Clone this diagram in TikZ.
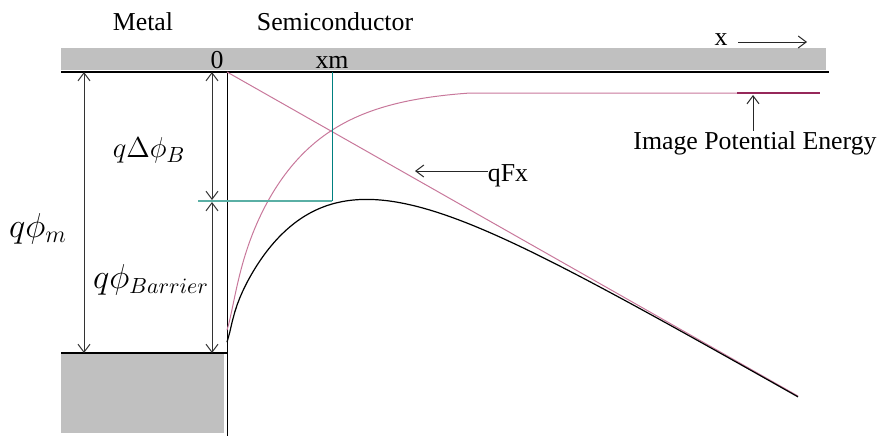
\documentclass[tikz,border=0pt]{standalone}
\usepackage{fontspec}
\setmainfont{Liberation Serif}
\usepackage{tikz}
\usetikzlibrary{arrows.meta, positioning}

\definecolor{silverfill}{RGB}{192,192,192}
\definecolor{mauve}{RGB}{200,120,155}
\definecolor{darkmauve}{RGB}{150,40,90}
\definecolor{tealline}{RGB}{0,128,128}
\definecolor{lightteal}{RGB}{90,175,165}

\begin{document}
\begin{tikzpicture}[
    x=0.5pt, y=-0.5pt,
    txt/.style={inner sep=0pt, anchor=base, font=\fontsize{12.9}{15}\selectfont},
    mathlabel/.style={inner sep=0pt, anchor=base},
    dimarrow/.style={{Straight Barb[length=4pt,width=6pt]}-{Straight Barb[length=4pt,width=6pt]}, black!80, line width=0.5pt},
    pointer/.style={-{Straight Barb[length=4pt,width=6pt]}, black!85, line width=0.5pt},
    field/.style={mauve, line width=0.5pt}
]
    \useasboundingbox (0,0) rectangle (882,436);

    % Gray regions
    \fill[silverfill] (61,48) rectangle (826,70);
    \fill[silverfill] (61,354) rectangle (224,433);

    % Reference lines
    \coordinate (vacL) at (61,72);
    \coordinate (vacR) at (829,72);
    \coordinate (fermiL) at (61,353);
    \coordinate (fermiR) at (227,353);
    \coordinate (ifTop) at (227,72);
    \coordinate (ifBot) at (227,436);
    \draw[line width=0.7pt] (vacL) -- (vacR);
    \draw[line width=0.6pt] (fermiL) -- (fermiR);
    \draw[line width=0.5pt] (ifTop) -- (ifBot);

    % Labels on top
    \node[txt] (metal) at (143,30) {Metal};
    \node[txt] (semi) at (335,30) {Semiconductor};
    \node[txt] (zero) at (217,68) {0};
    \node[txt] (xm) at (332,68) {xm};
    \node[txt] (xlab) at (721,45) {x};
    \coordinate (xStart) at (738,42);
    \coordinate (xEnd) at (807,42);
    \draw[pointer] (xStart) -- (xEnd);

    % Field line qFx
    \coordinate (fieldEnd) at (798,396);
    \draw[field] (ifTop) -- (fieldEnd);

    % Image potential energy
    \draw[field] plot[domain=227:470, samples=160, variable=\x]
        ({\x}, {93 + (107*exp(-0.0159*(\x-267)) + 0.35/(0.01+((\x-227)/120)^2))*(1-((\x-227)/243)^4)})
        -- (737,93);
    \coordinate (ipL) at (737,93);
    \coordinate (ipR) at (820,93);
    \draw[darkmauve, line width=0.6pt] (ipL) -- (ipR);

    % Barrier
    \draw[black, line width=0.6pt] plot[domain=227:798, samples=220, variable=\x]
        ({\x}, {72 + 0.5684*(\x-227) + 129*exp(-0.01183*(\x-283)) + 0.2/(0.01+((\x-227)/60)^2)});

    % xm markers
    \coordinate (xmTop) at (332,72);
    \coordinate (xmBot) at (332,201);
    \coordinate (peakL) at (198,201);
    \draw[tealline, line width=0.5pt] (xmTop) -- (xmBot);
    \draw[lightteal, line width=0.7pt] (peakL) -- (xmBot);

    % Dimension arrows
    \coordinate (mTop) at (84,72);
    \coordinate (mBot) at (84,353);
    \coordinate (dTop) at (212,72);
    \coordinate (dMid) at (212,200);
    \coordinate (bMid) at (212,202);
    \coordinate (bBot) at (212,353);
    \draw[dimarrow] (mTop) -- (mBot);
    \draw[dimarrow] (dTop) -- (dMid);
    \draw[dimarrow] (bMid) -- (bBot);

    \node[mathlabel, font=\fontsize{18}{20}\selectfont] (phim) at (38,237) {$q\phi_m$};
    \node[mathlabel, font=\fontsize{15}{17}\selectfont] (dphi) at (149,157) {$q\Delta\phi_B$};
    \node[mathlabel, font=\fontsize{16}{18}\selectfont] (phib) at (151,288) {$q\phi_{Barrier}$};

    % Pointers
    \node[txt] (qfx) at (508,181) {qFx};
    \coordinate (qfxTip) at (415,171);
    \draw[pointer] (qfx.west |- qfxTip) -- (qfxTip);
    \node[txt] (ipe) at (755,149) {Image Potential Energy};
    \coordinate (ipeTip) at (753,95);
    \draw[pointer] (ipe.north -| ipeTip) -- (ipeTip);
\end{tikzpicture}
\end{document}
